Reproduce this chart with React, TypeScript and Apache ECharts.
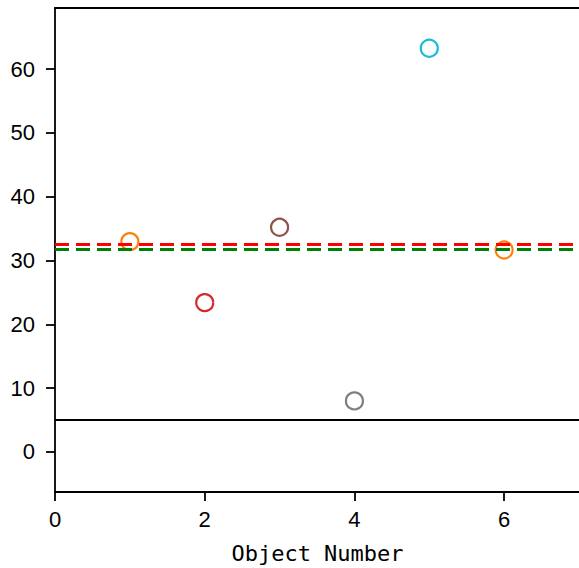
import React, { useEffect, useRef } from "react";
import * as echarts from "echarts";

const objectNumbers = [1, 2, 3, 4, 5, 6];
const values = [32.95, 23.4, 35.2, 8.0, 63.25, 31.65];
const pointColors = ["#ff7f0e", "#d62728", "#8c564b", "#7f7f7f", "#17becf", "#ff7f0e"];
const yTicks = [0, 10, 20, 30, 40, 50, 60];
const xTicks = [0, 2, 4, 6];
const refValues = [32.55, 31.75, 5.0];
const refColors = ["#ff0000", "#008000", "#000000"];
const refDashed = [true, true, false];
const xTitle = "Object Number";

export default function App() {
  const ref = useRef<HTMLDivElement>(null);
  useEffect(() => {
    if (!ref.current) return;
    const chart = echarts.init(ref.current, null, { renderer: "svg" });
    const tickFont = { fontFamily: "Liberation Sans", fontSize: 22, color: "#000" };
    const spine = { color: "#000", width: 1.8 };
    chart.setOption({
      animation: false,
      backgroundColor: "#fff",
      grid: {
        left: 55,
        top: 8,
        width: 525.5,
        height: 484,
        show: false,
      },
      xAxis: [
        {
          type: "value",
          min: 0,
          max: 7,
          splitLine: { show: false },
          axisLine: { show: true, onZero: false, lineStyle: spine },
          axisTick: { show: true, length: 9, customValues: xTicks, lineStyle: spine },
          axisLabel: { ...tickFont, margin: 16, customValues: xTicks },
        },
        {
          type: "value",
          position: "top",
          min: 0,
          max: 7,
          splitLine: { show: false },
          axisLine: { show: true, onZero: false, lineStyle: spine },
          axisTick: { show: false },
          axisLabel: { show: false },
        },
      ],
      yAxis: {
        type: "value",
        min: -6.27,
        max: 69.56,
        splitLine: { show: false },
        axisLine: { show: true, onZero: false, lineStyle: spine },
        axisTick: { show: true, length: 9, customValues: yTicks, lineStyle: spine },
        axisLabel: { ...tickFont, margin: 20, customValues: yTicks },
      },
      series: [
        {
          type: "scatter",
          z: 2,
          symbol: "circle",
          symbolSize: 17,
          data: objectNumbers.map((x, i) => ({
            value: [x, values[i]],
            itemStyle: {
              color: "rgba(0,0,0,0)",
              borderColor: pointColors[i],
              borderWidth: 2.2,
              opacity: 1,
            },
          })),
        },
        {
          type: "line",
          z: 3,
          data: [],
          markLine: {
            silent: true,
            symbol: "none",
            label: { show: false },
            data: refValues.map((v, i) => ({
              yAxis: v,
              lineStyle: {
                color: refColors[i],
                width: refDashed[i] ? 3.2 : 2,
                type: refDashed[i] ? [14, 7] : "solid",
                opacity: 1,
              },
            })),
          },
        },
      ],
      graphic: [
        {
          type: "text",
          x: 317.5,
          y: 553,
          style: {
            text: xTitle,
            textAlign: "center",
            textVerticalAlign: "middle",
            fontFamily: "DejaVu Sans Mono",
            fontSize: 22,
            fill: "#000",
          },
        },
      ],
    });
    return () => chart.dispose();
  }, []);
  return (
    <div
      ref={ref}
      style={{ position: "fixed", left: 0, top: 0, width: 579, height: 568 }}
    />
  );
}
